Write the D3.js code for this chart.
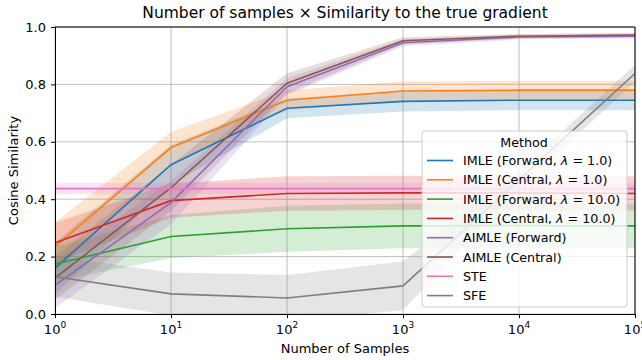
<!DOCTYPE html>
<html>
<head>
<meta charset="utf-8">
<script src="https://cdn.jsdelivr.net/npm/d3@7"></script>
<style>
	body { margin: 0; background: #fff; }
	text { font-family: "DejaVu Sans", sans-serif; fill: #000; }
</style>
</head>
<body>
<div id="chart"></div>
<script>
// sample counts (log x axis)
var samples = [1, 10, 100, 1000, 10000, 100000];

// series: mean and band half-width
var imleFwd1 = [0.16, 0.52, 0.717, 0.741, 0.745, 0.745];
var imleFwd1Err = [0.09, 0.07, 0.035, 0.035, 0.035, 0.035];
var imleCen1 = [0.235, 0.58, 0.745, 0.777, 0.78, 0.78];
var imleCen1Err = [0.085, 0.055, 0.035, 0.033, 0.033, 0.033];
var imleFwd10 = [0.174, 0.27, 0.297, 0.307, 0.308, 0.307];
var imleFwd10Err = [0.06, 0.075, 0.08, 0.078, 0.078, 0.078];
var imleCen10 = [0.248, 0.395, 0.42, 0.422, 0.422, 0.42];
var imleCen10Err = [0.07, 0.06, 0.06, 0.06, 0.06, 0.06];
var aimleFwd = [0.10, 0.388, 0.792, 0.945, 0.965, 0.968];
var aimleFwdErr = [0.08, 0.075, 0.03, 0.012, 0.008, 0.008];
var aimleCen = [0.125, 0.44, 0.804, 0.952, 0.968, 0.972];
var aimleCenErr = [0.075, 0.08, 0.035, 0.012, 0.008, 0.008];
var ste = [0.437, 0.437, 0.437, 0.437, 0.437, 0.437];
var steErr = [0.02, 0.02, 0.02, 0.02, 0.02, 0.02];
var sfe = [0.13, 0.07, 0.056, 0.098, 0.468, 0.838];
var sfeErr = [0.07, 0.075, 0.08, 0.085, 0.03, 0.03];

var labels = ["IMLE (Forward, λ = 1.0)", "IMLE (Central, λ = 1.0)", "IMLE (Forward, λ = 10.0)",
	"IMLE (Central, λ = 10.0)", "AIMLE (Forward)", "AIMLE (Central)", "STE", "SFE"];
var colors = ["#1f77b4", "#ff7f0e", "#2ca02c", "#d62728", "#9467bd", "#8c564b", "#e377c2", "#7f7f7f"];
var means = [imleFwd1, imleCen1, imleFwd10, imleCen10, aimleFwd, aimleCen, ste, sfe];
var errs = [imleFwd1Err, imleCen1Err, imleFwd10Err, imleCen10Err, aimleFwdErr, aimleCenErr, steErr, sfeErr];
var yTicks = [0, 0.2, 0.4, 0.6, 0.8, 1.0];
var xTicks = [1, 10, 100, 1000, 10000, 100000];

var width = 642, height = 360;
var padL = 55, padR = 635, padT = 27, padB = 314;

var svg = d3.select("#chart").append("svg")
	.attr("width", width)
	.attr("height", height);

var x = d3.scaleLog().domain([1, 100000]).range([padL, padR]);
var y = d3.scaleLinear().domain([0, 1]).range([padB, padT]);

svg.append("defs").append("clipPath").attr("id", "plotClip")
	.append("rect").attr("x", padL).attr("y", padT)
	.attr("width", padR - padL).attr("height", padB - padT);

// grid
svg.append("g").selectAll("line").data(xTicks).enter().append("line")
	.attr("x1", function (d) { return x(d); }).attr("x2", function (d) { return x(d); })
	.attr("y1", padT).attr("y2", padB)
	.attr("stroke", "#b0b0b0").attr("stroke-width", 0.8);
svg.append("g").selectAll("line").data(yTicks).enter().append("line")
	.attr("y1", function (d) { return y(d); }).attr("y2", function (d) { return y(d); })
	.attr("x1", padL).attr("x2", padR)
	.attr("stroke", "#b0b0b0").attr("stroke-width", 0.8);

var plot = svg.append("g").attr("clip-path", "url(#plotClip)");

var area = d3.area()
	.x(function (d) { return x(d.s); })
	.y0(function (d) { return y(d.m - d.e); })
	.y1(function (d) { return y(d.m + d.e); });
var line = d3.line()
	.x(function (d) { return x(d.s); })
	.y(function (d) { return y(d.m); });

means.forEach(function (m, i) {
	var pts = samples.map(function (s, j) { return { s: s, m: m[j], e: errs[i][j] }; });
	plot.append("path").datum(pts).attr("d", area)
		.attr("fill", colors[i]).attr("fill-opacity", 0.2).attr("stroke", "none");
});
means.forEach(function (m, i) {
	var pts = samples.map(function (s, j) { return { s: s, m: m[j], e: errs[i][j] }; });
	plot.append("path").datum(pts).attr("d", line)
		.attr("fill", "none").attr("stroke", colors[i]).attr("stroke-width", 1.6);
});

// axes
var xAxis = svg.append("g").attr("transform", "translate(0," + padB + ")")
	.call(d3.axisBottom(x).tickValues(xTicks).tickSize(4).tickFormat(""));
var yAxis = svg.append("g").attr("transform", "translate(" + padL + ",0)")
	.call(d3.axisLeft(y).tickValues(yTicks).tickSize(4).tickFormat(d3.format(".1f")));
[xAxis, yAxis].forEach(function (a) {
	a.select(".domain").attr("stroke", "#000").attr("stroke-width", 1);
	a.selectAll(".tick line").attr("stroke", "#000");
});
yAxis.selectAll("text").attr("font-size", "13px").attr("font-family", "DejaVu Sans").attr("dx", "-2");

var xLab = svg.append("g").selectAll("text").data(xTicks).enter().append("text")
	.attr("x", function (d) { return x(d); })
	.attr("y", padB + 20)
	.attr("text-anchor", "middle")
	.attr("font-size", "13px");
xLab.append("tspan").text("10");
xLab.append("tspan").attr("dy", -6).attr("font-size", "9px")
	.text(function (d) { return Math.round(Math.log10(d)); });

// right and top spines
svg.append("line").attr("x1", padR).attr("x2", padR).attr("y1", padT).attr("y2", padB)
	.attr("stroke", "#000");
svg.append("line").attr("x1", padL).attr("x2", padR).attr("y1", padT).attr("y2", padT)
	.attr("stroke", "#000");

// titles
svg.append("text").attr("x", (padL + padR) / 2).attr("y", 18)
	.attr("text-anchor", "middle").attr("font-size", "15.5px")
	.text("Number of samples × Similarity to the true gradient");
svg.append("text").attr("x", (padL + padR) / 2).attr("y", 353)
	.attr("text-anchor", "middle").attr("font-size", "13px")
	.text("Number of Samples");
svg.append("text").attr("transform", "translate(18," + ((padT + padB) / 2) + ") rotate(-90)")
	.attr("text-anchor", "middle").attr("font-size", "13px")
	.text("Cosine Similarity");

// legend
var lg = svg.append("g").attr("transform", "translate(422,131)");
lg.append("rect").attr("width", 205).attr("height", 176).attr("rx", 3)
	.attr("fill", "#fff").attr("fill-opacity", 0.8).attr("stroke", "#cccccc");
lg.append("text").attr("x", 102).attr("y", 16).attr("text-anchor", "middle")
	.attr("font-size", "12.7px").text("Method");
labels.forEach(function (l, i) {
	var yy = 29.5 + i * 19.3;
	lg.append("line").attr("x1", 5).attr("x2", 31).attr("y1", yy).attr("y2", yy)
		.attr("stroke", colors[i]).attr("stroke-width", 1.6);
	var t = lg.append("text").attr("x", 41).attr("y", yy + 4.5).attr("font-size", "12.7px");
	var parts = l.split("λ");
	t.append("tspan").text(parts[0]);
	if (parts.length > 1) {
		t.append("tspan").attr("font-style", "italic").text("λ");
		t.append("tspan").text(parts[1]);
	}
});
</script>
</body>
</html>
